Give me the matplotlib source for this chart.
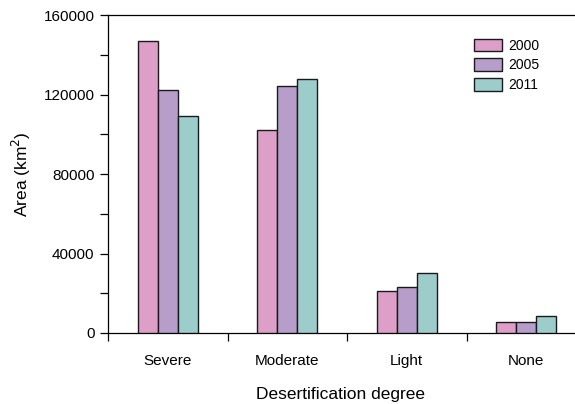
import matplotlib
matplotlib.use("Agg")
import matplotlib.pyplot as plt
import numpy as np
from matplotlib.ticker import MultipleLocator, FixedLocator

plt.rcParams['font.family'] = ['Liberation Sans', 'DejaVu Sans']

categories = ["Severe", "Moderate", "Light", "None"]
years = ["2000", "2005", "2011"]
v2000 = [147000, 102000, 21000, 5400]
v2005 = [122600, 124200, 23000, 5700]
v2011 = [109200, 127700, 30400, 8400]
colors = ["#dd9fc7", "#b79dca", "#9dcdcb"]

fig = plt.figure(figsize=(5.75, 4.04), dpi=100)
W, H = 575, 404
ax = fig.add_axes([108 / W, 71 / H, 478 / W, 317.7 / H])

x = np.arange(len(categories)) + 0.5
bw = 0.166
for k, (vals, c, lab) in enumerate(zip([v2000, v2005, v2011], colors, years)):
    ax.bar(x + (k - 1) * bw, vals, width=bw, color=c, edgecolor="#1a1a1a",
           linewidth=1.0, label=lab, zorder=3)

ax.set_xlim(0, 4)
ax.set_ylim(0, 160000)

ax.spines['right'].set_visible(False)
for s in ['left', 'bottom', 'top']:
    ax.spines[s].set_linewidth(0.9)

ax.yaxis.set_major_locator(MultipleLocator(40000))
ax.yaxis.set_minor_locator(MultipleLocator(20000))
ax.tick_params(axis='y', which='both', direction='out', length=5.8, width=0.9,
               labelsize=11, pad=4)

ax.xaxis.set_major_locator(FixedLocator([0, 1, 2, 3, 4]))
ax.xaxis.set_minor_locator(FixedLocator(list(x)))
ax.tick_params(axis='x', which='major', direction='out', length=5.5, width=0.9,
               labelbottom=False)
ax.tick_params(axis='x', which='minor', length=0, labelsize=11, pad=15)
ax.set_xticks(x, categories, minor=True)

ax.set_ylabel("Area (km$^2$)", fontsize=12.5, labelpad=7.5)
fig.text(341 / W, 5.5 / H, "Desertification degree", fontsize=12.5,
         ha='center', va='baseline')

ax.legend(loc='upper left', bbox_to_anchor=(474 / W, 1 - 38.5 / H),
          bbox_transform=fig.transFigure, frameon=False, fontsize=10,
          handlelength=2.0, handleheight=1.05, labelspacing=0.4,
          handletextpad=0.5, borderpad=0, borderaxespad=0)

fig.savefig("out.png", dpi=100)
